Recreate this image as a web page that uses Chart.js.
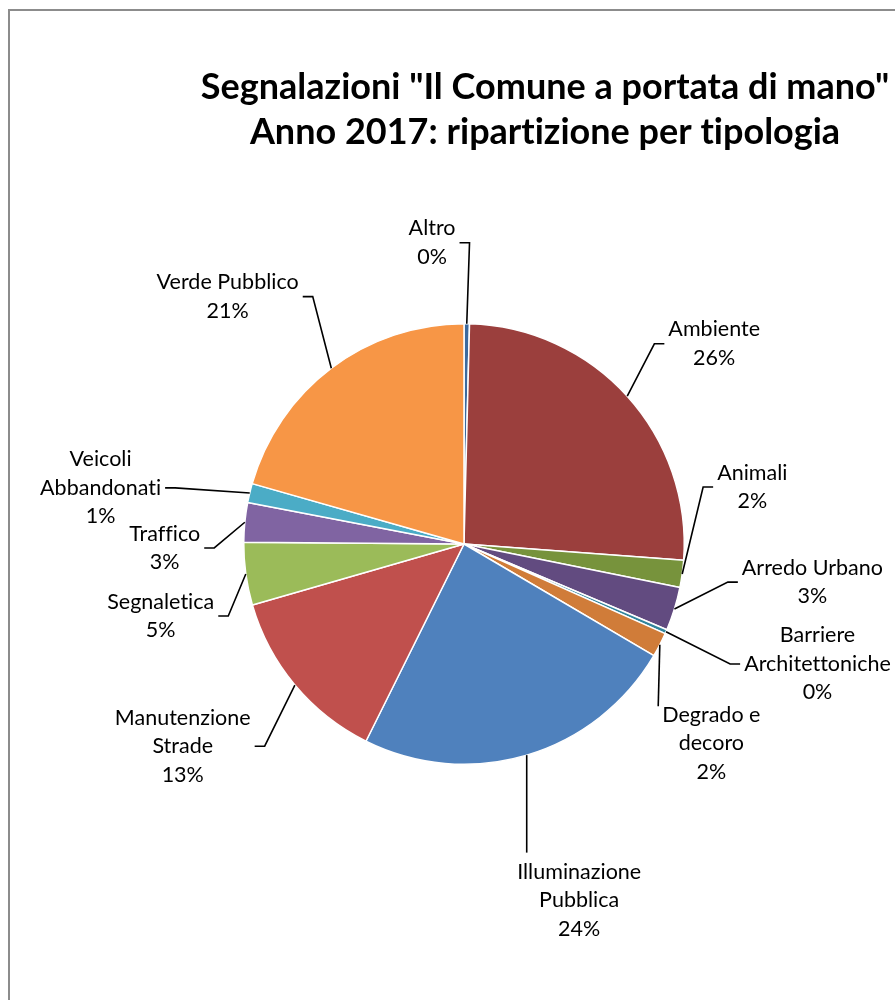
<!DOCTYPE html>
<html>
<head>
<meta charset="utf-8">
<script src="https://cdn.jsdelivr.net/npm/chart.js@4.4.0/dist/chart.umd.min.js"></script>
<style>
  body{margin:0;background:#fff;overflow:hidden;}
  #frame{position:absolute;left:8px;top:9px;width:1200px;height:1200px;border:2px solid #8c8c8c;}
  #wrap{position:absolute;left:0;top:0;width:895px;height:1000px;}
</style>
</head>
<body>
<div id="frame"></div>
<div id="wrap"><canvas id="torta" width="895" height="1000"></canvas></div>
<script>
// categorie (righe = testo dell'etichetta)
var tipologie=[
  ['Altro'],
  ['Ambiente'],
  ['Animali'],
  ['Arredo Urbano'],
  ['Barriere','Architettoniche'],
  ['Degrado e','decoro'],
  ['Illuminazione','Pubblica'],
  ['Manutenzione','Strade'],
  ['Segnaletica'],
  ['Traffico'],
  ['Veicoli','Abbandonati'],
  ['Verde Pubblico']
];
// quota di segnalazioni (%)
var segnalazioni=[0.4,25.8,2.0,3.2,0.3,1.8,23.9,13.2,4.6,2.9,1.4,20.6];
var colori=['#3c6a9e','#9b3f3d','#77933c','#624b80','#31859c','#d07c39',
            '#4f81bd','#c0504d','#9bbb59','#8064a2','#4bacc6','#f79646'];
var titolo=['Segnalazioni "Il Comune a portata di mano"','Anno 2017: ripartizione per tipologia'];

// posizione delle etichette rispetto al centro, in raggi
var posEtichette=[[-0.145,-1.368],[1.136,-0.909],[1.309,-0.259],[1.582,0.173],[1.605,0.545],[1.123,0.905],
                  [0.523,1.618],[-1.277,0.918],[-1.377,0.327],[-1.359,0.018],[-1.65,-0.255],[-1.073,-1.123]];

var etichette={
  id:'etichette',
  afterDraw:function(chart){
    var ctx=chart.ctx;
    var meta=chart.getDatasetMeta(0);
    var tot=segnalazioni.reduce(function(a,b){return a+b;},0);
    var lh=28.5;
    ctx.save();
    if('letterSpacing' in ctx) ctx.letterSpacing='0.01px'; // niente legature
    // titolo
    ctx.fillStyle='#000';
    ctx.font='bold 36px Lato';
    ctx.textAlign='center';
    ctx.textBaseline='middle';
    ctx.fillText(titolo[0],545,87);
    ctx.fillText(titolo[1],545,132);

    ctx.font='21.5px Lato';
    ctx.strokeStyle='#000';
    ctx.lineWidth=1.6;
    meta.data.forEach(function(arc,i){
      var p=arc.getProps(['x','y','startAngle','endAngle','outerRadius'],true);
      var r=p.outerRadius;
      var mid=(p.startAngle+p.endAngle)/2;
      var ax=p.x+Math.cos(mid)*r, ay=p.y+Math.sin(mid)*r;
      var righe=tipologie[i].concat([Math.round(segnalazioni[i]/tot*100)+'%']);
      var cx=p.x+posEtichette[i][0]*r, cy=p.y+posEtichette[i][1]*r;
      var w=0;
      righe.forEach(function(t){w=Math.max(w,ctx.measureText(t).width);});
      var h=righe.length*lh;
      var top=cy-h/2, left=cx-w/2, right=cx+w/2;
      righe.forEach(function(t,k){ctx.fillText(t,cx,top+lh*(k+0.5));});
      // linea guida
      ctx.beginPath();
      ctx.moveTo(ax,ay);
      if(ax>=left && ax<=right){
        ctx.lineTo(ax, ay<top ? top-5 : top+h+5);
      } else if(ax<left && left-ax<20 && ay<top){
        ctx.lineTo(left-4,top+lh*0.2);
      } else if(ax<left){
        ctx.lineTo(left-14,cy);
        ctx.lineTo(left-4,cy);
      } else {
        ctx.lineTo(right+14,cy);
        ctx.lineTo(right+4,cy);
      }
      ctx.stroke();
    });
    ctx.restore();
  }
};

var ctx=document.getElementById('torta');
var grafico=new Chart(ctx,{
  type:'pie',
  data:{
    labels:tipologie,
    datasets:[{
      data:segnalazioni,
      backgroundColor:colori,
      borderColor:'#fff',
      borderWidth:1.5
    }]
  },
  options:{
    responsive:false,
    animation:false,
    layout:{padding:{left:243,right:210,top:323,bottom:235}},
    plugins:{legend:{display:false},tooltip:{enabled:false},title:{display:false}}
  },
  plugins:[etichette]
});
</script>
</body>
</html>
